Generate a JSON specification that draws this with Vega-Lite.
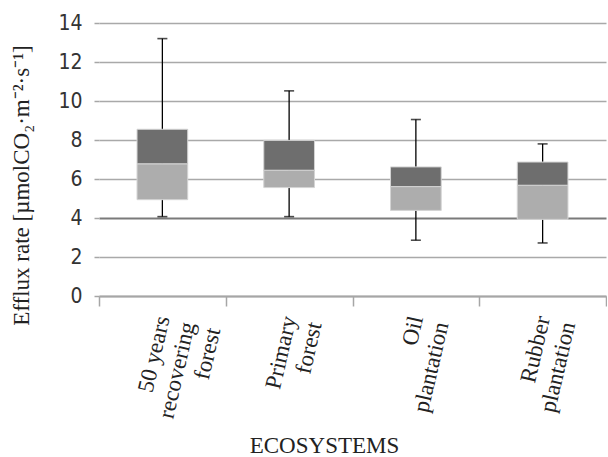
{
  "$schema": "https://vega.github.io/schema/vega-lite/v6.json",
  "width": 507,
  "height": 273,
  "padding": {"left": 10, "top": 12, "right": 0, "bottom": 0},
  "background": "white",
  "config": {"view": {"stroke": null}},
  "data": {
    "values": [
      {"ecosystem": "50 years recovering forest", "min": 4.07, "q1": 4.94, "median": 6.78, "q3": 8.55, "max": 13.2},
      {"ecosystem": "Primary forest", "min": 4.07, "q1": 5.56, "median": 6.45, "q3": 7.98, "max": 10.52},
      {"ecosystem": "Oil plantation", "min": 2.86, "q1": 4.39, "median": 5.61, "q3": 6.62, "max": 9.05},
      {"ecosystem": "Rubber plantation", "min": 2.72, "q1": 3.93, "median": 5.68, "q3": 6.87, "max": 7.8}
    ]
  },
  "encoding": {
    "x": {
      "field": "ecosystem",
      "type": "nominal",
      "sort": null,
      "scale": {"paddingInner": 0, "paddingOuter": 0},
      "axis": {
        "title": "ECOSYSTEMS",
        "titleFont": "Liberation Serif",
        "titleFontSize": 23,
        "titleFontWeight": "normal",
        "titleColor": "#222222",
        "titlePadding": 8,
        "titleX": 225,
        "labelFont": "Liberation Serif",
        "labelFontSize": 23,
        "labelColor": "#222222",
        "labelAngle": -77,
        "labelAlign": "right",
        "labelBaseline": "middle",
        "labelLineHeight": 26,
        "labelPadding": 10,
        "labelOverlap": false,
        "labelExpr": "datum.value == '50 years recovering forest' ? ['50 years','recovering','forest'] : datum.value == 'Primary forest' ? ['Primary','forest'] : datum.value == 'Oil plantation' ? ['Oil','plantation'] : datum.value == 'Rubber plantation' ? ['Rubber','plantation'] : ''",
        "tickBand": "extent",
        "tickColor": "#a6a6a6",
        "tickWidth": 1.5,
        "tickSize": 10,
        "domainColor": "#a6a6a6",
        "domainWidth": 2,
        "grid": false
      }
    },
    "y": {
      "field": "min",
      "type": "quantitative",
      "scale": {"domain": [0, 14], "nice": false, "zero": true},
      "axis": {
        "title": "Efflux rate [µmolCO₂·m⁻²·s⁻¹]",
        "titleFont": "Liberation Serif",
        "titleFontSize": 23,
        "titleFontWeight": "normal",
        "titleColor": "#222222",
        "titlePadding": 24,
        "titleY": 162,
        "format": "d",
        "labelFont": "Liberation Sans Narrow, DejaVu Sans Condensed, sans-serif",
        "labelFontSize": 21,
        "labelColor": "#333333",
        "labelPadding": 12,
        "labelOverlap": false,
        "labelFlush": false,
        "values": [0, 2, 4, 6, 8, 10, 12, 14],
        "tickCount": 20,
        "tickColor": "#a6a6a6",
        "tickSize": 5,
        "tickWidth": 1.5,
        "domain": false,
        "grid": true,
        "gridColor": {"condition": {"test": "datum.value === 4", "value": "#7a7a7a"}, "value": "#a9a9a9"},
        "gridWidth": {"condition": {"test": "datum.value === 4", "value": 2.2}, "value": 1.6}
      }
    }
  },
  "layer": [
    {
      "mark": {"type": "rule", "color": "#000000", "strokeWidth": 1.3},
      "encoding": {"y2": {"field": "max"}}
    },
    {
      "mark": {"type": "tick", "color": "#000000", "thickness": 1.6, "size": 10},
      "encoding": {}
    },
    {
      "mark": {"type": "tick", "color": "#000000", "thickness": 1.6, "size": 10},
      "encoding": {"y": {"field": "max", "type": "quantitative"}}
    },
    {
      "mark": {"type": "bar", "color": "#adadad", "stroke": "#d4d4d4", "strokeWidth": 1, "width": {"band": 0.4}},
      "encoding": {"y": {"field": "q1", "type": "quantitative"}, "y2": {"field": "median"}}
    },
    {
      "mark": {"type": "bar", "color": "#6e6e6e", "stroke": "#d4d4d4", "strokeWidth": 1, "width": {"band": 0.4}},
      "encoding": {"y": {"field": "median", "type": "quantitative"}, "y2": {"field": "q3"}}
    }
  ]
}
